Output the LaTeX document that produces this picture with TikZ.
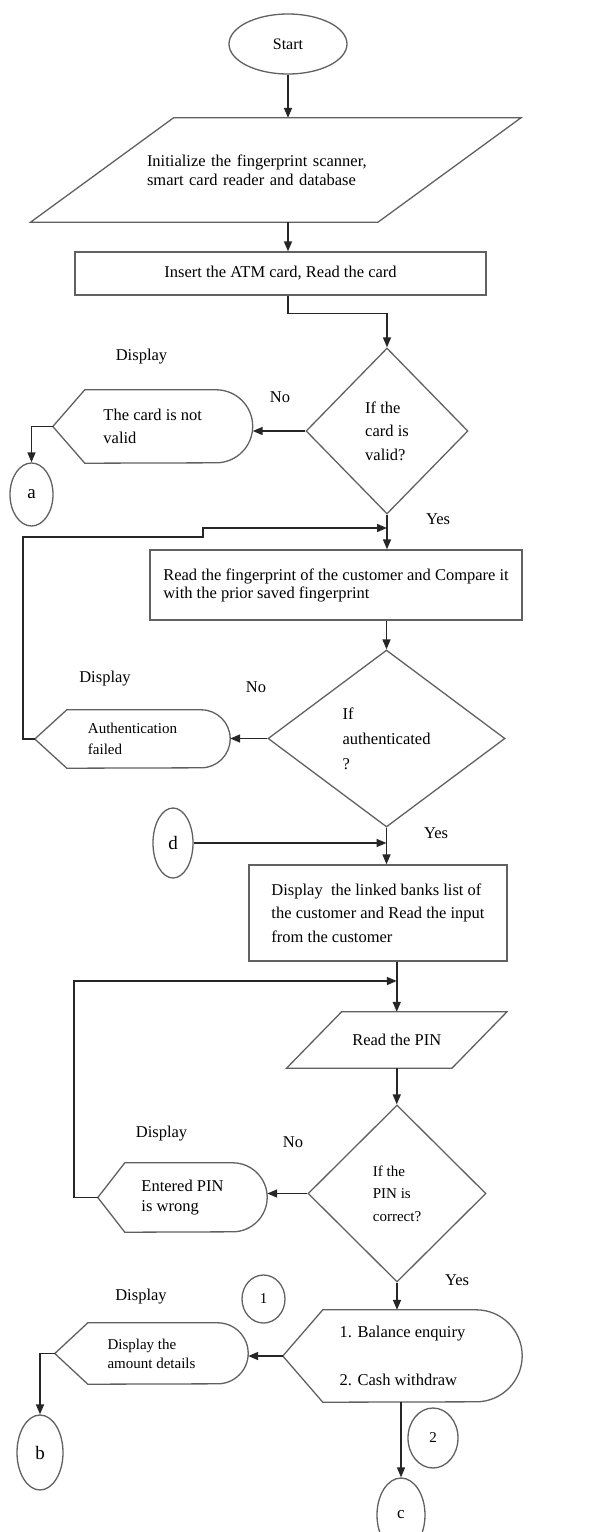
\documentclass[tikz,border=0pt]{standalone}
\usepackage{fontspec}
\setmainfont{Liberation Serif}
\usetikzlibrary{shapes.geometric,arrows.meta}

\definecolor{edgegray}{gray}{0.38}
\newcommand\tsz[2]{\fontsize{#1}{#2}\selectfont}

% pointed-left / rounded-right "display" outline around a node
% #1 node, #2 depth of the point, #3 radius of the rounded end
\newcommand\dispoutline[3]{%
  \draw[outline] (#1.west) -- ([xshift=#2pt]#1.north west)
    -- ([xshift=-#3pt]#1.north east) arc[start angle=90,end angle=-90,radius=#3pt]
    -- ([xshift=#2pt]#1.south west) -- cycle;}
% parallelogram outline around a node, #2 = half of the horizontal slant
\newcommand\slantoutline[2]{%
  \draw[outline] ([xshift=-#2pt]#1.south west) -- ([xshift=#2pt]#1.north west)
    -- ([xshift=#2pt]#1.north east) -- ([xshift=-#2pt]#1.south east) -- cycle;}

\tikzset{
  x=1pt, y=1pt,
  outline/.style={draw=edgegray, line width=1.3pt},
  arr/.style={draw=black!85, line width=1.6pt, -{Triangle[length=10pt,width=8pt]}},
  box/.style={outline, rectangle, inner sep=0pt, align=left, font=\tsz{16.5}{20}},
  plainbox/.style={rectangle, inner sep=0pt, align=left, font=\tsz{16.5}{20}},
  decision/.style={outline, diamond, inner sep=0pt, align=left},
  terminal/.style={outline, ellipse, inner sep=0pt},
  lbl/.style={inner sep=0pt, font=\tsz{16.5}{20}}
}

\begin{document}
\begin{tikzpicture}
\fill[white] (0,0) rectangle (590,-1532);
\useasboundingbox (0,0) rectangle (590,-1532);

% ---- start and initialisation ----
\node[terminal, minimum width=118pt, minimum height=60pt, font=\tsz{16}{18}] (start) at (288,-44) {Start};

\node[plainbox, minimum width=347pt, minimum height=104pt, text width=257.5pt, font=\tsz{16.5}{19}] (init) at (275.75,-170)
  {Initialize the fingerprint scanner,\\smart card reader and database};
\slantoutline{init}{71.5}

\node[box, minimum width=411pt, minimum height=43pt] (insert) at (280.5,-273.5) {Insert the ATM card, Read the card};

% ---- card validity ----
\node[decision, minimum width=162pt, minimum height=166pt, font=\tsz{16.5}{23.5}] (d1) at (387,-431) {If the\\card is\\valid?};
\node[plainbox, minimum width=199.5pt, minimum height=73pt, font=\tsz{16.5}{23}] (disp1) at (152.75,-426.5) {The card is not\\valid};
\dispoutline{disp1}{32}{36.5}
\node[terminal, minimum width=43pt, minimum height=63pt, font=\tsz{19}{20}] (a) at (31.5,-494.5) {a};
\node[lbl] (lbl1) at (141.5,-357) {Display};
\node[lbl] (no1) at (280,-397) {No};
\node[lbl] (yes1) at (438,-519) {Yes};

% ---- fingerprint check ----
\node[box, minimum width=372pt, minimum height=70pt, font=\tsz{16.5}{18}] (rect2) at (336,-585)
  {Read the fingerprint of the customer and Compare it\\with the prior saved fingerprint};
\node[decision, minimum width=237pt, minimum height=177pt, font=\tsz{16.5}{25}] (d2) at (386.5,-738.5) {If\\authenticated\\?};
\node[plainbox, minimum width=195pt, minimum height=58pt, font=\tsz{15}{21}] (disp2) at (132.5,-739) {Authentication\\failed};
\dispoutline{disp2}{32}{29}
\node[lbl] (lbl2) at (105,-679) {Display};
\node[lbl] (no2) at (256,-687) {No};
\node[lbl] (yes2) at (436,-833) {Yes};
\node[terminal, minimum width=40pt, minimum height=70pt, font=\tsz{19}{20}] (d) at (173,-843) {d};

% ---- bank list and PIN ----
\node[box, minimum width=258pt, minimum height=96pt, font=\tsz{16.5}{23.5}] (rect3) at (378,-913)
  {Display\ \ the linked banks list of\\the customer and Read the input\\from the customer};
\node[plainbox, minimum width=165pt, minimum height=56pt] (pin) at (396.75,-1040) {Read the PIN};
\slantoutline{pin}{27.5}
\node[decision, minimum width=178pt, minimum height=177pt, font=\tsz{15}{22.5}] (d3) at (397,-1193.5) {If the\\PIN is\\correct?};
\node[plainbox, minimum width=169pt, minimum height=69pt, font=\tsz{16.5}{20}] (disp3) at (182.5,-1197.5) {Entered PIN\\is wrong};
\dispoutline{disp3}{27}{34.5}
\node[lbl] (lbl3) at (161.5,-1134) {Display};
\node[lbl] (no3) at (293,-1142) {No};
\node[lbl] (yes3) at (457,-1280) {Yes};

% ---- transaction menu ----
\node[plainbox, minimum width=239pt, minimum height=92pt, font=\tsz{16.5}{24}] (disp4) at (402.5,-1356) {1. Balance enquiry\\[24pt]2. Cash withdraw};
\dispoutline{disp4}{40}{46}
\node[plainbox, minimum width=193pt, minimum height=61pt, font=\tsz{15}{19}] (disp5) at (151.5,-1353.5) {Display the\\amount details};
\dispoutline{disp5}{33}{30.5}
\node[lbl] (lbl4) at (141,-1297) {Display};
\node[terminal, minimum width=43pt, minimum height=48pt, font=\tsz{15}{16}] (one) at (263.5,-1299) {1};
\node[terminal, minimum width=50pt, minimum height=60pt, font=\tsz{15}{16}] (two) at (433,-1438) {2};
\node[terminal, minimum width=46pt, minimum height=75pt, font=\tsz{19}{20}] (b) at (40,-1452.5) {b};
\node[terminal, minimum width=48pt, minimum height=74pt, font=\tsz{17}{18}] (c) at (401,-1515) {c};

% ---- junctions of the return loops ----
\coordinate (jog1) at (203,-537);
\coordinate (join1) at (387,-528);
\coordinate (join2) at (396.75,-981);

% ---- connectors ----
\draw[arr] (start.south) -- (start |- init.north);
\draw[arr] (start |- init.south) -- (start |- insert.north);
\draw[arr] (start |- insert.south) -- ++(0,-18) -| (d1.north);
\draw[arr] (d1.west) -- (d1.west -| disp1.east);
\draw[arr] (disp1.west) -| (a.north);
\draw[arr] (d1.south) -- (d1.south |- rect2.north);
\draw[arr] (disp2.west) -- ++(-12,0) |- (jog1) |- (join1);
\draw[arr] (d2.north |- rect2.south) -- (d2.north);
\draw[arr] (d2.west) -- (d2.west -| disp2.east);
\draw[arr] (d2.south) -- (d2.south |- rect3.north);
\draw[arr] (d.east) -- (d.east -| d2.south);
\draw[arr] (rect3.south -| pin.north) -- (pin.north);
\draw[arr] (disp3.west) -- ++(-24,0) |- (join2);
\draw[arr] (pin.south) -- (pin.south |- d3.north);
\draw[arr] (d3.west) -- (d3.west -| disp3.east);
\draw[arr] (d3.south) -- (d3.south |- disp4.north);
\draw[arr] (disp4.west) -- (disp4.west -| disp5.east);
\draw[arr] (disp5.west) -| (b.north);
\draw[arr] (c.north |- disp4.south) -- (c.north);
\end{tikzpicture}
\end{document}
